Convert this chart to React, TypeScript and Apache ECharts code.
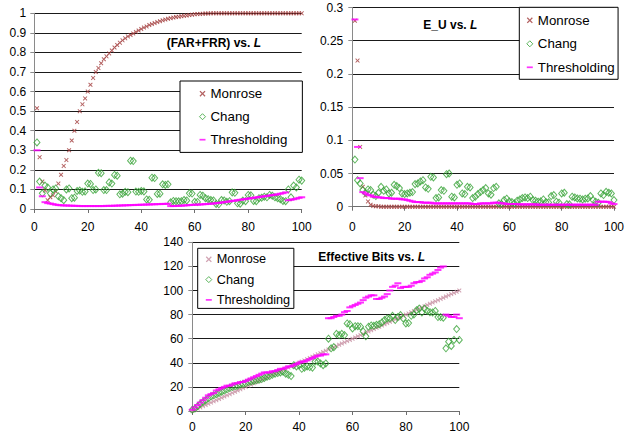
import React, { useEffect, useRef } from "react";
import * as echarts from "echarts";

// ---------- Data ----------
// Chart 1: (FAR+FRR) vs. L, L = 1..100
const FF_MONROSE = [
  0.515, 0.265, 0.14, 0.095, 0.045, 0.06, 0.07, 0.09, 0.13, 0.175,
  0.22, 0.25, 0.3, 0.35, 0.4, 0.445, 0.5, 0.535, 0.565, 0.6,
  0.635, 0.67, 0.7, 0.72, 0.745, 0.765, 0.78, 0.795, 0.81, 0.825,
  0.838, 0.85, 0.862, 0.872, 0.882, 0.889, 0.897, 0.905, 0.912, 0.92,
  0.927, 0.933, 0.94, 0.945, 0.95, 0.955, 0.96, 0.964, 0.968, 0.972,
  0.975, 0.978, 0.981, 0.983, 0.985, 0.987, 0.989, 0.991, 0.993, 0.995,
  0.996, 0.997, 0.998, 0.999, 0.999, 1, 1, 1, 1, 1,
  1, 1, 1, 1, 1, 1, 1, 1, 1, 1,
  1, 1, 1, 1, 1, 1, 1, 1, 1, 1,
  1, 1, 1, 1, 1, 1, 1, 1, 1, 1,
];
const FF_CHANG = [
  0.34, 0.14, 0.08, 0.12, 0.11, 0.08, 0.1, 0.105, 0.065, 0.055,
  0.045, 0.1, 0.105, 0.055, 0.058, 0.092, 0.094, 0.088, 0.09, 0.13,
  0.128, 0.097, 0.1, 0.185, 0.183, 0.097, 0.097, 0.136, 0.13, 0.174,
  0.17, 0.075, 0.078, 0.088, 0.086, 0.247, 0.245, 0.089, 0.088, 0.092,
  0.09, 0.049, 0.047, 0.16, 0.158, 0.077, 0.078, 0.126, 0.123, 0.126,
  0.034, 0.041, 0.04, 0.039, 0.04, 0.046, 0.044, 0.08, 0.079, 0.037,
  0.036, 0.072, 0.068, 0.055, 0.05, 0.046, 0.044, 0.026, 0.024, 0.046,
  0.044, 0.037, 0.04, 0.085, 0.083, 0.029, 0.027, 0.043, 0.04, 0.072,
  0.07, 0.041, 0.04, 0.055, 0.058, 0.063, 0.06, 0.072, 0.068, 0.06,
  0.055, 0.05, 0.041, 0.04, 0.1, 0.06, 0.12, 0.11, 0.15, 0.145,
];
const FF_THRESH = [
  0.3, 0.11, 0.065, 0.035, 0.03, 0.028, 0.025, 0.022, 0.02, 0.019,
  0.018, 0.018, 0.017, 0.017, 0.016, 0.016, 0.015, 0.015, 0.015, 0.015,
  0.015, 0.015, 0.015, 0.015, 0.015, 0.015, 0.016, 0.016, 0.016, 0.017,
  0.017, 0.018, 0.018, 0.019, 0.019, 0.02, 0.02, 0.021, 0.021, 0.022,
  0.022, 0.023, 0.023, 0.024, 0.024, 0.025, 0.025, 0.026, 0.026, 0.027,
  0.015, 0.015, 0.016, 0.016, 0.017, 0.018, 0.019, 0.02, 0.021, 0.022,
  0.022, 0.023, 0.024, 0.025, 0.026, 0.027, 0.028, 0.03, 0.031, 0.033,
  0.035, 0.037, 0.039, 0.041, 0.043, 0.045, 0.047, 0.049, 0.051, 0.053,
  0.055, 0.057, 0.059, 0.061, 0.063, 0.065, 0.067, 0.069, 0.071, 0.073,
  0.075, 0.078, 0.081, 0.085, 0.045, 0.047, 0.05, 0.053, 0.057, 0.06,
];

// Chart 2: E_U vs. L, L = 1..100
const EU_MONROSE = [
  0.28, 0.22, 0.09, 0.03, 0.017, 0.008, 0.003, 0.001, 0.0005, 0.0005,
  0, 0, 0, 0, 0, 0, 0, 0, 0, 0,
  0, 0, 0, 0, 0, 0, 0, 0, 0, 0,
  0, 0, 0, 0, 0, 0, 0, 0, 0, 0,
  0, 0, 0, 0, 0, 0, 0, 0, 0, 0,
  0, 0, 0, 0, 0, 0, 0, 0, 0, 0,
  0, 0, 0, 0, 0, 0, 0, 0, 0, 0,
  0, 0, 0, 0, 0, 0, 0, 0, 0, 0,
  0, 0, 0, 0, 0, 0, 0, 0, 0, 0,
  0, 0, 0, 0, 0, 0, 0, 0, 0, 0,
];
const EU_CHANG = [
  0.071, 0.04, 0.035, 0.025, 0.021, 0.026, 0.025, 0.018, 0.016, 0.021,
  0.03, 0.024, 0.026, 0.02, 0.021, 0.033, 0.031, 0.028, 0.02, 0.019,
  0.02, 0.021, 0.022, 0.034, 0.035, 0.038, 0.04, 0.029, 0.027, 0.045,
  0.044, 0.013, 0.014, 0.025, 0.024, 0.049, 0.05, 0.015, 0.014, 0.033,
  0.035, 0.02, 0.019, 0.03, 0.029, 0.013, 0.015, 0.019, 0.022, 0.025,
  0.028, 0.02, 0.018, 0.028, 0.03, 0.005, 0.004, 0.01, 0.012, 0.008,
  0.007, 0.005, 0.009, 0.011, 0.013, 0.014, 0.013, 0.015, 0.01, 0.009,
  0.0075, 0.008, 0.011, 0.007, 0.0065, 0.016, 0.0175, 0.0075, 0.006, 0.02,
  0.021, 0.004, 0.0035, 0.015, 0.014, 0.0125, 0.012, 0.011, 0.012, 0.0125,
  0.016, 0.01, 0.0075, 0.006, 0.02, 0.0175, 0.0225, 0.021, 0.02, 0.01,
];
const EU_THRESH = [
  0.282, 0.09, 0.043, 0.022, 0.02, 0.018, 0.017, 0.015, 0.015, 0.014,
  0.014, 0.013, 0.013, 0.013, 0.012, 0.012, 0.012, 0.012, 0.011, 0.011,
  0.01, 0.009, 0.008, 0.007, 0.007, 0.007, 0.006, 0.006, 0.006, 0.006,
  0.005, 0.005, 0.005, 0.005, 0.005, 0.005, 0.005, 0.005, 0.005, 0.005,
  0.005, 0.005, 0.005, 0.005, 0.005, 0.004, 0.004, 0.004, 0.005, 0.005,
  0.005, 0.005, 0.005, 0.006, 0.006, 0.006, 0.005, 0.005, 0.004, 0.004,
  0.004, 0.004, 0.004, 0.0035, 0.0035, 0.0035, 0.0035, 0.0035, 0.0035, 0.0035,
  0.003, 0.003, 0.003, 0.003, 0.003, 0.003, 0.003, 0.003, 0.003, 0.003,
  0.003, 0.003, 0.003, 0.003, 0.003, 0.003, 0.003, 0.003, 0.003, 0.003,
  0.003, 0.003, 0.003, 0.0075, 0.0075, 0.0075, 0.0075, 0.007, 0.005, 0.004,
];

// Chart 3: Effective Bits vs. L, L = 0..100
const EB_MONROSE = [
  0, 1, 2, 3, 4, 5, 6, 7, 8, 9, 10,
  11, 12, 13, 14, 15, 16, 17, 18, 19, 20,
  21, 22, 23, 24, 25, 26, 27, 28, 29, 30,
  31, 32, 33, 34, 35, 36, 37, 38, 39, 40,
  41, 42, 43, 44, 45, 46, 47, 48, 49, 50,
  51, 52, 53, 54, 55, 56, 57, 58, 59, 60,
  61, 62, 63, 64, 65, 66, 67, 68, 69, 70,
  71, 72, 73, 74, 75, 76, 77, 78, 79, 80,
  81, 82, 83, 84, 85, 86, 87, 88, 89, 90,
  91, 92, 93, 94, 95, 96, 97, 98, 99, 100,
];
const EB_CHANG = [
  1,
  2, 4, 6, 7.5, 9, 10.5, 12, 13, 14, 15,
  16, 17, 18, 19, 20, 20.5, 21, 22, 22.5, 23,
  24, 24.5, 25, 25.5, 26, 26.5, 27.5, 28.5, 29, 30,
  31, 31.5, 32, 32.6, 31, 30, 29, 38, 37, 38,
  35, 36, 37, 36.5, 36, 41, 41, 39.5, 38, 39.5,
  60, 52, 53, 64, 63, 64, 63, 72.7, 72, 68.5,
  70.4, 70.4, 70, 66, 62, 70, 71, 70.7, 71.5, 72,
  73.5, 75.5, 76.8, 77, 79, 75.5, 78, 79.6, 76.8, 72.7,
  73, 79, 80, 83.7, 85, 81.8, 85, 83, 82, 81.8,
  83, 78, 78, 77.4, 52, 57.5, 54, 59, 68, 59,
];
const EB_THRESH = [
  1,
  3, 5, 7, 9, 11, 13, 14, 15, 17, 18,
  19, 20, 21, 21, 22, 23, 23, 24, 24, 25,
  26, 27, 28, 29, 30, 31, 32, 32, 32, 33,
  33, 34, 35, 35, 36, 37, 37, 38, 39, 40,
  41, 41, 42, 43, 44, 45, 46, 46, 47, 47,
  77, 77, 78, 79, 79, 80, 82, 83, 86, 87,
  88, 89, 90, 92, 94, 95, 96, 96, 93, 93,
  94, 95, 97, 100, 103, 104, 106, 102, 103, 103,
  103, 104, 106, 107, 107, 108, 110, 111, 113, 114,
  115, 117, 119, 120, 80, 79, 78, 78, 80, 77,
];

const SERIES_NAMES = ["Monrose", "Chang", "Thresholding"];
const TITLES = ["(FAR+FRR) vs. ", "E_U vs. ", "Effective Bits vs. "];
const TITLE_ITALIC = "L";

// ---------- Styling ----------
const FONT = '"Liberation Sans", Arial, Helvetica, sans-serif';
const X_ICON =
  "path://M0,1.5L1.5,0L5,3.5L8.5,0L10,1.5L6.5,5L10,8.5L8.5,10L5,6.5L1.5,10L0,8.5L3.5,5Z";
const DASH_ICON = "path://M0,0H7V2H0Z";
const MONROSE_DARK = "#a03a3a";
const MONROSE_LIGHT = "#c48a9e";
const GREEN = "#36a336";
const MAGENTA = "#ff00ff";

const toPairs = (vals: number[], start: number) =>
  vals.map((v, i) => [i + start, v]);

export default function App() {
  const ref = useRef<HTMLDivElement>(null);

  useEffect(() => {
    if (!ref.current) return;
    const chart = echarts.init(ref.current, null, { renderer: "svg" });

    const grids = [
      { left: 34.3, top: 13.3, width: 267.4, height: 195.7 },
      { left: 352.3, top: 7.5, width: 266, height: 199.2 },
      { left: 192.3, top: 242.3, width: 267, height: 168.7 },
    ];
    const yCfg = [
      { max: 1, interval: 0.1 },
      { max: 0.3, interval: 0.05 },
      { max: 140, interval: 20 },
    ];
    const xLabelMargin = [12, 14, 10];

    const xAxes = grids.map((_, i) => ({
      type: "value",
      gridIndex: i,
      min: 0,
      max: 100,
      interval: 20,
      axisLine: { show: true, onZero: false, lineStyle: { color: "#6e6e6e", width: 1 } },
      axisTick: { show: true, length: 4, lineStyle: { color: "#6e6e6e" } },
      axisLabel: { color: "#000", fontSize: 12, fontFamily: FONT, margin: xLabelMargin[i] },
      splitLine: { show: false },
    }));
    const yAxes = grids.map((_, i) => ({
      type: "value",
      gridIndex: i,
      min: 0,
      max: yCfg[i].max,
      interval: yCfg[i].interval,
      axisLine: { show: true, lineStyle: { color: "#8a8a8a", width: 1 } },
      axisTick: { show: true, length: 4, lineStyle: { color: "#8a8a8a" } },
      axisLabel: {
        color: "#000",
        fontSize: 12,
        fontFamily: FONT,
        margin: i === 0 ? 8 : 9,
        formatter: (v: number) => String(parseFloat(v.toFixed(4))),
      },
      splitLine: { show: true, lineStyle: { color: "#1a1a1a", width: 1 } },
    }));

    const monroseColors = [MONROSE_DARK, MONROSE_DARK, MONROSE_LIGHT];
    const dataSets = [
      [toPairs(FF_MONROSE, 1), toPairs(FF_CHANG, 1), toPairs(FF_THRESH, 1)],
      [toPairs(EU_MONROSE, 1), toPairs(EU_CHANG, 1), toPairs(EU_THRESH, 1)],
      [toPairs(EB_MONROSE, 0), toPairs(EB_CHANG, 0), toPairs(EB_THRESH, 0)],
    ];

    const series: any[] = [];
    dataSets.forEach((sets, g) => {
      series.push({
        name: SERIES_NAMES[0],
        type: "scatter",
        xAxisIndex: g,
        yAxisIndex: g,
        data: sets[0],
        symbol: X_ICON,
        symbolSize: 4.5,
        itemStyle: { color: monroseColors[g] },
        z: 2,
      });
      series.push({
        name: SERIES_NAMES[1],
        type: "scatter",
        xAxisIndex: g,
        yAxisIndex: g,
        data: sets[1],
        symbol: "diamond",
        symbolSize: [6, 7],
        itemStyle: { color: "rgba(0,0,0,0)", borderColor: GREEN, borderWidth: 1 },
        z: 3,
      });
      series.push({
        name: SERIES_NAMES[2],
        type: "scatter",
        xAxisIndex: g,
        yAxisIndex: g,
        data: sets[2],
        symbol: "rect",
        symbolSize: [7, 2],
        itemStyle: { color: MAGENTA },
        z: 4,
      });
    });

    const legendCfg = [
      { left: 180, top: 81, padding: [4.7, 15, 4.7, 19], fontSize: 13.3, lineHeight: 16, itemGap: 7 },
      { left: 519.3, top: 7.3, padding: [5, 3.4, 4, 7], fontSize: 13.3, lineHeight: 16, itemGap: 7.5 },
      { left: 197.7, top: 248.3, padding: [4, 3.7, 1.5, 7.6], fontSize: 12.7, lineHeight: 14, itemGap: 6.3 },
    ];
    const legends = legendCfg.map((c, g) => ({
      orient: "vertical",
      left: c.left,
      top: c.top,
      padding: c.padding,
      itemGap: c.itemGap,
      itemWidth: 6,
      itemHeight: 6,
      backgroundColor: "#fff",
      borderColor: "#000",
      borderWidth: 1,
      borderRadius: 0,
      selectedMode: false,
      textStyle: { color: "#000", fontSize: c.fontSize, fontFamily: FONT, lineHeight: c.lineHeight },
      data: [
        { name: SERIES_NAMES[0], icon: X_ICON, itemStyle: { color: monroseColors[g], borderWidth: 0 } },
        {
          name: SERIES_NAMES[1],
          icon: "diamond",
          itemStyle: { color: "rgba(0,0,0,0)", borderColor: GREEN, borderWidth: 1 },
        },
        { name: SERIES_NAMES[2], icon: DASH_ICON, itemStyle: { color: MAGENTA, borderWidth: 0 } },
      ],
    }));

    const titlePos = [
      { left: 166.7, top: 36.3 },
      { left: 423.3, top: 18 },
      { left: 318.3, top: 250 },
    ];
    const titles = titlePos.map((p, i) => ({
      text: `{b|${TITLES[i]}}{i|${TITLE_ITALIC}}`,
      left: p.left,
      top: p.top,
      padding: 0,
      textStyle: {
        rich: {
          b: { fontWeight: "bold", fontSize: 12, fontFamily: FONT, color: "#000", lineHeight: 14 },
          i: { fontWeight: "bold", fontStyle: "italic", fontSize: 12, fontFamily: FONT, color: "#000", lineHeight: 14 },
        },
      },
    }));

    chart.setOption({
      animation: false,
      backgroundColor: "#fff",
      title: titles,
      grid: grids,
      xAxis: xAxes,
      yAxis: yAxes,
      legend: legends,
      series,
    });

    return () => chart.dispose();
  }, []);

  return (
    <div
      ref={ref}
      style={{ position: "fixed", left: 0, top: 0, width: 627, height: 438, background: "#fff" }}
    />
  );
}
